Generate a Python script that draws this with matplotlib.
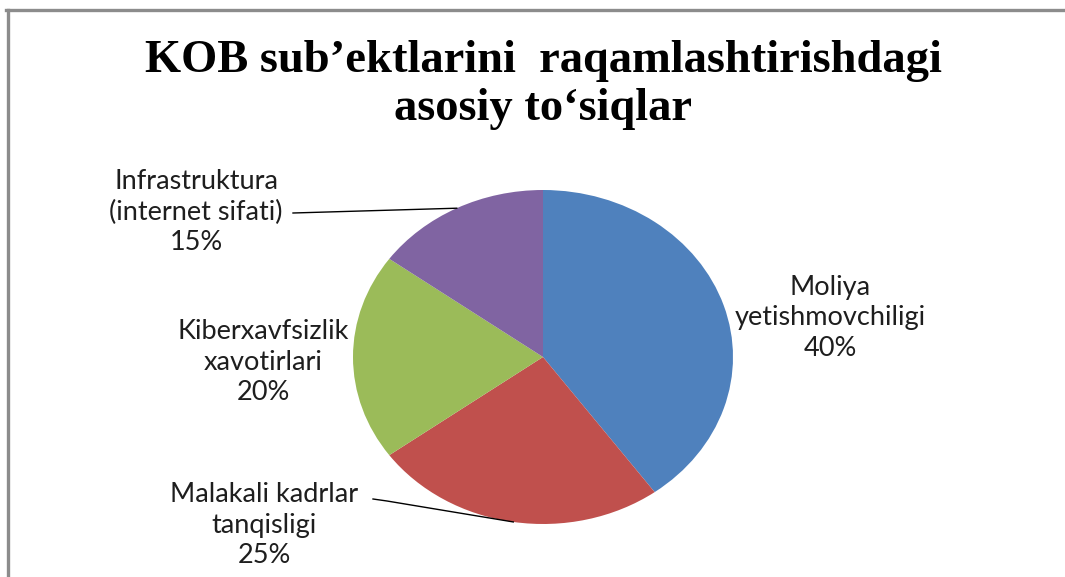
import numpy as np
import matplotlib
matplotlib.use("Agg")
import matplotlib.pyplot as plt
from matplotlib.lines import Line2D

W, H = 1065, 577

TITLE_LINES = ["KOB sub\u2019ektlarini  raqamlashtirishdagi", "asosiy to\u2018siqlar"]
CATEGORIES = ["Moliya\nyetishmovchiligi", "Malakali kadrlar\ntanqisligi",
              "Kiberxavfsizlik\nxavotirlari", "Infrastruktura\n(internet sifati)"]
SHARES = [40, 25, 20, 15]
COLORS = ["#4F81BD", "#C0504D", "#9BBB59", "#8064A2"]

# label block centres (pixels from top-left) and leader start points
LABEL_POS = [(830, 318), (264, 362), (263, 362), (196, 212)]
LABEL_POS[1] = (264, 525)
LEADERS = {1: [(373, 499), (387, 501)], 3: [(293, 213)]}


def fx(x):
    return x / W


def fy(y):
    return 1 - y / H


fig = plt.figure(figsize=(W / 100, H / 100), dpi=100)
fig.patch.set_facecolor("white")

# chart frame (only left and top edges visible in the crop)
fig.add_artist(Line2D([fx(7.5), fx(7.5)], [fy(10), fy(H + 5)], transform=fig.transFigure,
                      color="#8c8c8c", lw=2.4))
fig.add_artist(Line2D([fx(6.3), fx(W + 5)], [fy(10), fy(10)], transform=fig.transFigure,
                      color="#8c8c8c", lw=2.4))

# title
fig.text(fx(543), fy(72), TITLE_LINES[0], ha="center", va="baseline",
         family="Liberation Serif", fontweight="bold", fontsize=33.5)
fig.text(fx(543), fy(120), TITLE_LINES[1], ha="center", va="baseline",
         family="Liberation Serif", fontweight="bold", fontsize=33.5)

# pie (slightly elliptical, as in the stretched original)
cx, cy, rx, ry = 543, 357, 190, 167
ax = fig.add_axes([fx(cx - rx), fy(cy + ry), 2 * rx / W, 2 * ry / H])
wedges, _ = ax.pie(SHARES, colors=COLORS, startangle=90, counterclock=False,
                   radius=1, wedgeprops=dict(linewidth=0))
ax.set_aspect("auto")
ax.set_xlim(-1, 1)
ax.set_ylim(-1, 1)
ax.axis("off")

for i, (name, share) in enumerate(zip(CATEGORIES, SHARES)):
    lx, ly = LABEL_POS[i]
    fig.text(fx(lx), fy(ly), f"{name}\n{share}%", ha="center", va="center",
             family="Lato", fontsize=19.5, color="#1e1e1e", linespacing=1.26)
    if i in LEADERS:
        w = wedges[i]
        mid = np.deg2rad((w.theta1 + w.theta2) / 2)
        disp = ax.transData.transform((np.cos(mid), np.sin(mid)))
        ex, ey = fig.transFigure.inverted().transform(disp)
        pts = [(fx(px), fy(py)) for px, py in LEADERS[i]] + [(ex, ey)]
        xs, ys = zip(*pts)
        fig.add_artist(Line2D(xs, ys, transform=fig.transFigure, color="#000000", lw=1.0))

fig.savefig("out.png", dpi=100, facecolor="white")
